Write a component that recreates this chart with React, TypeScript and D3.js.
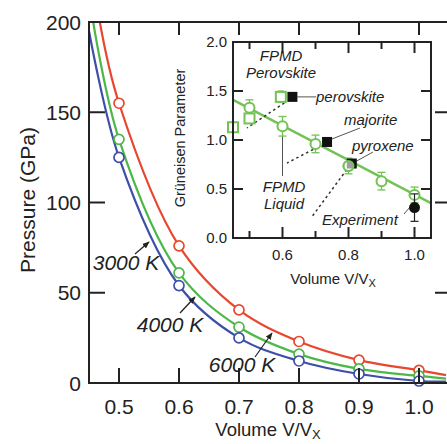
import React from "react";
import * as d3 from "d3";

// ---------- Main chart data ----------
const volumeTicks = [0.5, 0.6, 0.7, 0.8, 0.9, 1.0];
const pressureTicks = [0, 50, 100, 150, 200];
const sampleVolumes = [0.5, 0.6, 0.7, 0.8, 0.9, 1.0];
const red6000 = [155, 76, 40.5, 23, 12.7, 7];
const green4000 = [135, 61, 31, 16, 7.8, 3.9];
const blue3000 = [125, 54, 25, 12.2, 5, 1.1];
// curve end points (volume, pressure)
const redCurveEnds = [[0.468, 200], [1.045, 4.4]];
const greenCurveEnds = [[0.457, 200], [1.045, 2.4]];
const blueCurveEnds = [[0.45, 195], [1.045, 0.8]];

// ---------- Inset data ----------
const insetYTicks = [0.0, 0.5, 1.0, 1.5, 2.0];
const insetXMajor = [0.6, 0.8, 1.0];
const insetXMinor = [0.5, 0.7, 0.9];
const fitLineV = [0.45, 1.05];
const fitLineG = [1.41, 0.355];
const liquidV = [0.5, 0.6, 0.7, 0.8, 0.9, 1.0];
const liquidG = [1.33, 1.14, 0.96, 0.735, 0.58, 0.44];
const liquidErr = [0.08, 0.1, 0.09, 0.08, 0.09, 0.08];
const pvV = [0.45, 0.5, 0.595];
const pvG = [1.13, 1.22, 1.44];
const pvErr = [0.0, 0.0, 0.06];
const mineralNames = ["perovskite", "majorite", "pyroxene"];
const mineralV = [0.63, 0.735, 0.81];
const mineralG = [1.44, 0.98, 0.76];
const experimentV = [1.0];
const experimentG = [0.31];
const experimentLo = [0.17];
const experimentHi = [0.45];

const W = 447;
const H = 444;
const RED = "#e8472e";
const GREEN = "#4db848";
const BLUE = "#3d4fa8";
const LGREEN = "#72c255";
const FONT = "'Liberation Sans', Arial, Helvetica, sans-serif";

export default function App() {
  const x = d3.scaleLinear().domain([0.45, 1.045]).range([89, 446]);
  const y = d3.scaleLinear().domain([0, 200]).range([383, 22]);

  const xi = d3.scaleLinear().domain([0.45, 1.05]).range([233, 431]);
  const yi = d3.scaleLinear().domain([0, 2]).range([238, 42]);

  const curveGen = d3
    .line<number[]>()
    .x((d) => x(d[0]))
    .y((d) => y(d[1]))
    .curve(d3.curveCatmullRom.alpha(0.5));

  const series = [
    { color: RED, vals: red6000, ends: redCurveEnds },
    { color: GREEN, vals: green4000, ends: greenCurveEnds },
    { color: BLUE, vals: blue3000, ends: blueCurveEnds },
  ];

  const fitLine = d3
    .line<number>()
    .x((_, i) => xi(fitLineV[i]))
    .y((d) => yi(d));

  const arrow = (x1: number, y1: number, x2: number, y2: number, key: string) => (
    <line key={key} x1={x1} y1={y1} x2={x2} y2={y2} stroke="#222" strokeWidth={1.2} markerEnd="url(#arr)" />
  );

  return (
    <svg width={W} height={H} style={{ position: "absolute", left: 0, top: 0, background: "#fff" }} fontFamily={FONT}>
      <defs>
        <marker id="arr" viewBox="0 0 10 10" refX="9" refY="5" markerWidth="6" markerHeight="6" orient="auto">
          <path d="M0,1 L10,5 L0,9 z" fill="#222" />
        </marker>
        <clipPath id="mainclip">
          <rect x={89} y={22} width={W - 89} height={361} />
        </clipPath>
        <clipPath id="insetclip">
          <rect x={233} y={42} width={198} height={196} />
        </clipPath>
      </defs>
      <rect x={0} y={0} width={W} height={H} fill="#fff" />

      {/* curves */}
      <g clipPath="url(#mainclip)">
        {series.map((s, si) => {
          const pts = [s.ends[0], ...sampleVolumes.map((v, i) => [v, s.vals[i]]), s.ends[1]];
          return <path key={si} d={curveGen(pts) || ""} fill="none" stroke={s.color} strokeWidth={2.2} />;
        })}
      </g>
      {series.map((s, si) =>
        sampleVolumes.map((v, i) => (
          <circle key={`c${si}-${i}`} cx={x(v)} cy={y(s.vals[i])} r={5} fill="#fff" stroke={s.color} strokeWidth={1.7} />
        ))
      )}

      {/* main axes */}
      <g stroke="#222" strokeWidth={2} fill="none">
        <line x1={89} y1={22} x2={89} y2={384} />
        <line x1={88} y1={383} x2={W} y2={383} />
        <line x1={88} y1={22} x2={W} y2={22} />
        {volumeTicks.map((v) => (
          <g key={`xt${v}`}>
            <line x1={x(v)} y1={383} x2={x(v)} y2={368} />
            <line x1={x(v)} y1={22} x2={x(v)} y2={35} />
          </g>
        ))}
        {pressureTicks.slice(1, 4).map((p) => (
          <g key={`yt${p}`}>
            <line x1={89} y1={y(p)} x2={105} y2={y(p)} />
            <line x1={W} y1={y(p)} x2={435} y2={y(p)} />
          </g>
        ))}
      </g>
      <g fontSize={21} fill="#222">
        {volumeTicks.map((v) => (
          <text key={`xl${v}`} x={x(v)} y={414} textAnchor="middle">
            {v.toFixed(1)}
          </text>
        ))}
        {pressureTicks.map((p) => (
          <text key={`yl${p}`} x={81} y={y(p) + 7.5} textAnchor="end">
            {p}
          </text>
        ))}
      </g>
      <text x={268} y={436} fontSize={18.5} textAnchor="middle" fill="#222">
        Volume V/V<tspan fontSize={13} dy={3}>X</tspan>
      </text>
      <text transform="translate(35,200) rotate(-90)" fontSize={21} textAnchor="middle" fill="#222">
        Pressure (GPa)
      </text>

      {/* temperature labels */}
      <g fontSize={21} fontStyle="italic" fill="#222">
        <text x={126} y={270} textAnchor="middle">3000 K</text>
        <text x={170} y={332} textAnchor="middle">4000 K</text>
        <text x={242} y={372} textAnchor="middle">6000 K</text>
      </g>
      {arrow(135, 254, 149, 242, "a1")}
      {arrow(180, 313, 195, 297, "a2")}
      {arrow(255, 357, 272, 333, "a3")}

      {/* ---------- inset ---------- */}
      <rect x={233} y={42} width={198} height={196} fill="#fff" />
      <g clipPath="url(#insetclip)">
        <path d={fitLine(fitLineG) || ""} fill="none" stroke={LGREEN} strokeWidth={2.6} />
      </g>

      {/* dotted connectors */}
      <g stroke="#333" strokeWidth={1.5} strokeDasharray="2.5,3">
        <line x1={xi(mineralV[0]) - 8} y1={yi(mineralG[0]) + 6} x2={247} y2={128} />
        <line x1={xi(mineralV[1]) - 9} y1={yi(mineralG[1]) + 5} x2={287} y2={163} />
        <line x1={xi(mineralV[2]) - 5} y1={yi(mineralG[2]) + 6} x2={311} y2={218} />
      </g>

      {/* thin pointer lines */}
      <g stroke="#555" strokeWidth={1}>
        <line x1={xi(mineralV[0]) + 5} y1={yi(mineralG[0])} x2={316} y2={yi(mineralG[0])} />
        <line x1={xi(mineralV[1]) + 5} y1={yi(mineralG[1]) - 3} x2={360} y2={128} />
        <line x1={xi(mineralV[2]) + 4} y1={yi(mineralG[2]) - 2} x2={373} y2={152} />
        <line x1={xi(0.6)} y1={yi(liquidG[1]) + 6} x2={xi(0.6)} y2={176} />
        <line x1={404} y1={214} x2={xi(experimentV[0]) - 5} y2={yi(experimentG[0])} />
      </g>

      {/* error bars */}
      <g stroke={LGREEN} strokeWidth={1.3} fill="none">
        {liquidV.map((v, i) => (
          <g key={`le${i}`}>
            <line x1={xi(v)} x2={xi(v)} y1={yi(liquidG[i] - liquidErr[i])} y2={yi(liquidG[i] + liquidErr[i])} />
            <line x1={xi(v) - 4} x2={xi(v) + 4} y1={yi(liquidG[i] - liquidErr[i])} y2={yi(liquidG[i] - liquidErr[i])} />
            <line x1={xi(v) - 4} x2={xi(v) + 4} y1={yi(liquidG[i] + liquidErr[i])} y2={yi(liquidG[i] + liquidErr[i])} />
          </g>
        ))}
        {pvV.map((v, i) =>
          pvErr[i] > 0 ? (
            <g key={`pe${i}`}>
              <line x1={xi(v)} x2={xi(v)} y1={yi(pvG[i] - pvErr[i])} y2={yi(pvG[i] + pvErr[i])} />
              <line x1={xi(v) - 3} x2={xi(v) + 3} y1={yi(pvG[i] + pvErr[i])} y2={yi(pvG[i] + pvErr[i])} />
            </g>
          ) : null
        )}
      </g>

      {/* green symbols */}
      {liquidV.map((v, i) => (
        <circle key={`lc${i}`} cx={xi(v)} cy={yi(liquidG[i])} r={5} fill="#fff" stroke={LGREEN} strokeWidth={2} />
      ))}
      {pvV.map((v, i) => (
        <rect key={`ps${i}`} x={xi(v) - 5} y={yi(pvG[i]) - 5} width={10} height={10} fill="#fff" stroke={LGREEN} strokeWidth={2} />
      ))}

      {/* black squares */}
      {mineralV.map((v, i) => (
        <rect key={`ms${i}`} x={xi(v) - 5} y={yi(mineralG[i]) - 5} width={10} height={10} fill="#111" />
      ))}
      {/* re-draw pyroxene circle over its square */}
      <circle cx={xi(liquidV[3])} cy={yi(liquidG[3])} r={5} fill="#fff" fillOpacity={0.6} stroke={LGREEN} strokeWidth={2} />

      {/* experiment */}
      <g stroke="#222" strokeWidth={1.2}>
        <line x1={xi(experimentV[0])} x2={xi(experimentV[0])} y1={yi(experimentLo[0])} y2={yi(experimentHi[0])} />
        <line x1={xi(experimentV[0]) - 4} x2={xi(experimentV[0]) + 4} y1={yi(experimentLo[0])} y2={yi(experimentLo[0])} />
        <line x1={xi(experimentV[0]) - 4} x2={xi(experimentV[0]) + 4} y1={yi(experimentHi[0])} y2={yi(experimentHi[0])} />
      </g>
      <circle cx={xi(experimentV[0])} cy={yi(experimentG[0])} r={5.5} fill="#111" />

      {/* inset labels */}
      <g fontSize={15} fontStyle="italic" fill="#222">
        <text x={316} y={102}>{mineralNames[0]}</text>
        <text x={344} y={125}>{mineralNames[1]}</text>
        <text x={352} y={151}>{mineralNames[2]}</text>
        <text x={322} y={225}>Experiment</text>
        <text x={281} y={61} textAnchor="middle">FPMD</text>
        <text x={281} y={78} textAnchor="middle">Perovskite</text>
        <text x={284} y={192} textAnchor="middle">FPMD</text>
        <text x={284} y={209} textAnchor="middle">Liquid</text>
      </g>

      {/* inset frame and ticks */}
      <g stroke="#222" strokeWidth={2} fill="none">
        <rect x={233} y={42} width={198} height={196} />
        {insetYTicks.slice(1).map((g) => (
          <line key={`iyl${g}`} x1={233} x2={243} y1={yi(g)} y2={yi(g)} />
        ))}
        {insetYTicks.slice(1, 4).map((g) => (
          <line key={`iyr${g}`} x1={431} x2={421} y1={yi(g)} y2={yi(g)} />
        ))}
        {insetXMajor.map((v) => (
          <g key={`ixM${v}`}>
            <line x1={xi(v)} x2={xi(v)} y1={238} y2={227} />
            <line x1={xi(v)} x2={xi(v)} y1={42} y2={53} />
          </g>
        ))}
        {insetXMinor.map((v) => (
          <g key={`ixm${v}`}>
            <line x1={xi(v)} x2={xi(v)} y1={238} y2={231} />
            <line x1={xi(v)} x2={xi(v)} y1={42} y2={49} />
          </g>
        ))}
      </g>
      <g fontSize={15} fill="#222">
        {insetYTicks.map((g) => (
          <text key={`iyt${g}`} x={227} y={yi(g) + 5} textAnchor="end">
            {g.toFixed(1)}
          </text>
        ))}
        {insetXMajor.map((v) => (
          <text key={`ixt${v}`} x={xi(v)} y={260} textAnchor="middle">
            {v.toFixed(1)}
          </text>
        ))}
      </g>
      <text x={333} y={284} fontSize={15} textAnchor="middle" fill="#222">
        Volume V/V<tspan fontSize={11} dy={3}>X</tspan>
      </text>
      <text transform="translate(185,138) rotate(-90)" fontSize={14.5} textAnchor="middle" fill="#222">
        Grüneisen Parameter
      </text>
    </svg>
  );
}
